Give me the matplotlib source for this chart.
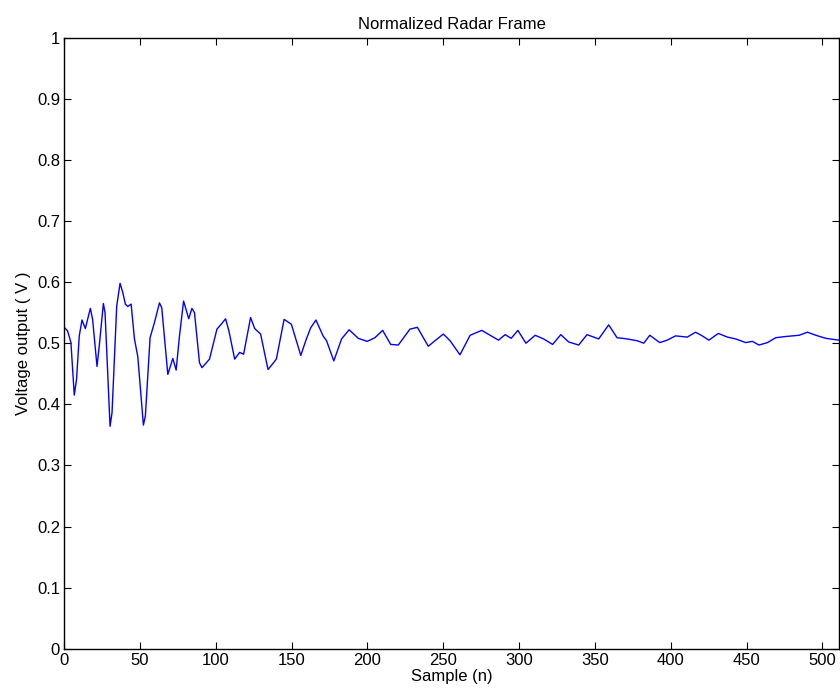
import matplotlib
matplotlib.use("Agg")
import matplotlib.pyplot as plt
import numpy as np

plt.rcParams['font.family'] = ['Liberation Sans', 'DejaVu Sans']

# sample index and voltage
sample = [0, 2.2, 4.4, 6.6, 8.1, 9.9, 11.7, 13.9, 17.2, 18.7, 21.6, 23.1, 25.8, 26.9,
          30.2, 31.5, 34.6, 36.8, 38.6, 40.3, 41.9, 44.1, 46.3, 48.5, 52.2, 53.5,
          56.6, 59.5, 62.8, 64.3, 68.3, 71.6, 73.8, 76.0, 78.7, 82.1, 84.2, 85.9,
          89.2, 90.8, 93.0, 95.8, 100.7, 103.5, 106.4, 108.6, 112.4, 115.7, 118.3,
          122.9, 125.6, 129.5, 134.4, 137.7, 139.9, 145.0, 149.8, 156.0, 159.7,
          162.5, 166.0, 170.7, 173.0, 177.8, 182.9, 187.9, 193.9, 199.8, 204.9,
          210.0, 215.3, 220.3, 228.0, 232.9, 240.1, 244.5, 250.0, 254.5, 261.0,
          267.7, 275.4, 280.9, 286.4, 290.8, 294.8, 299.2, 304.5, 310.6, 316.2,
          322.1, 327.5, 332.7, 339.3, 344.8, 352.5, 359.1, 364.6, 371.3, 377.9,
          382.2, 386.2, 392.8, 397.7, 403.2, 410.9, 416.4, 420.8, 425.2, 431.4,
          437.4, 442.9, 449.4, 453.9, 458.2, 463.8, 469.3, 475.9, 484.7, 490.2,
          495.7, 502.3, 511]
voltage = [0.526, 0.520, 0.501, 0.415, 0.441, 0.512, 0.538, 0.524, 0.557, 0.539, 0.462,
           0.496, 0.565, 0.550, 0.364, 0.386, 0.561, 0.598, 0.583, 0.564, 0.560, 0.564,
           0.507, 0.478, 0.366, 0.381, 0.509, 0.534, 0.566, 0.558, 0.449, 0.475, 0.456,
           0.512, 0.569, 0.540, 0.557, 0.550, 0.468, 0.460, 0.466, 0.474, 0.523, 0.531,
           0.540, 0.520, 0.474, 0.485, 0.482, 0.542, 0.524, 0.515, 0.457, 0.467, 0.474,
           0.539, 0.531, 0.480, 0.507, 0.525, 0.538, 0.512, 0.504, 0.471, 0.507, 0.522,
           0.508, 0.503, 0.509, 0.521, 0.498, 0.497, 0.523, 0.526, 0.495, 0.504, 0.515,
           0.504, 0.481, 0.513, 0.521, 0.513, 0.505, 0.514, 0.508, 0.521, 0.500, 0.513,
           0.507, 0.498, 0.514, 0.502, 0.497, 0.514, 0.507, 0.530, 0.509, 0.507, 0.504,
           0.500, 0.513, 0.501, 0.505, 0.512, 0.510, 0.518, 0.512, 0.505, 0.516, 0.510,
           0.507, 0.501, 0.503, 0.497, 0.501, 0.509, 0.511, 0.513, 0.518, 0.513, 0.508,
           0.505]

x_ticks = np.arange(0, 501, 50)
y_ticks = np.round(np.arange(0, 1.01, 0.1), 1)

fig = plt.figure(figsize=(8.4, 6.93), dpi=100)
ax = fig.add_axes([0.0765, 0.0639, 0.9223, 0.8817])

ax.plot(sample, voltage, color='blue', lw=1.0)

ax.set_xlim(0, 511)
ax.set_ylim(0, 1)
ax.set_xticks(x_ticks)
ax.set_yticks(y_ticks)
ax.set_yticklabels(['0'] + [f'{v:g}' for v in y_ticks[1:]])
ax.tick_params(direction='in', length=5, width=0.8, top=True, right=True,
               labelsize=12, pad=3)
for s in ax.spines.values():
    s.set_linewidth(1.0)

ax.set_title('Normalized Radar Frame', fontsize=12, pad=6)
ax.set_xlabel('Sample (n)', fontsize=12, labelpad=1)
ax.set_ylabel('Voltage output ( V )', fontsize=12, labelpad=4)

fig.savefig('out.png', dpi=100)
